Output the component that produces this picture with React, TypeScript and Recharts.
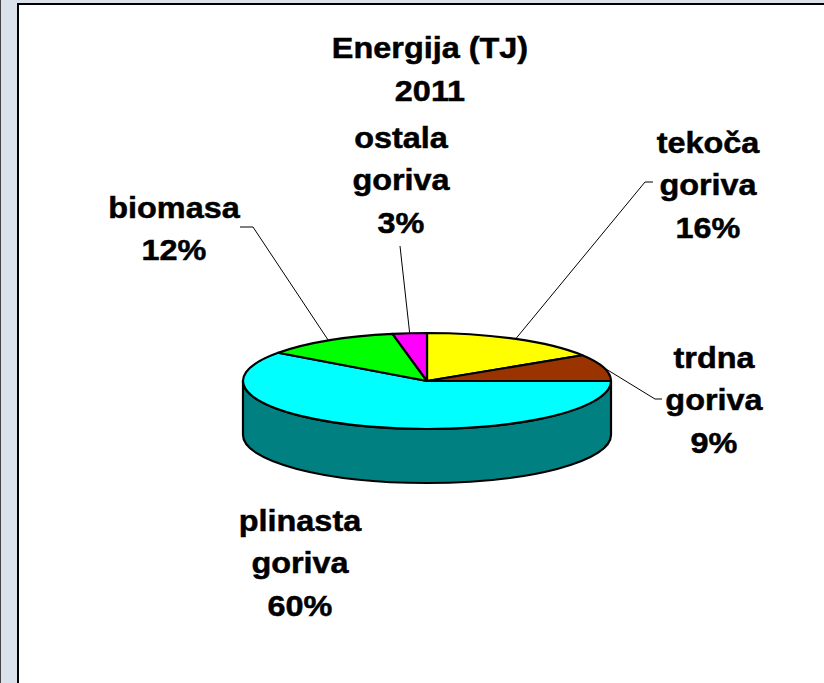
import React from 'react';
import { PieChart, Pie, Cell, Customized } from 'recharts';

const categories = ['tekoča goriva', 'trdna goriva', 'plinasta goriva', 'biomasa', 'ostala goriva'];
const shares = [16, 9, 60, 12, 3];
const colors = ['#FFFF00', '#993300', '#00FFFF', '#00FF00', '#FF00FF'];
const titleLines = ['Energija (TJ)', '2011'];

const data = categories.map((name, i) => ({ name, value: shares[i] }));

const W = 824;
const H = 683;
const CX = 427;
const CY = 381;
const RX = 184;
const TILT = 48 / 184;
const DEPTH = 54;
const FONT = '"Liberation Sans", Arial, Helvetica, sans-serif';
const SX = 1.08;

// label placement (center x, first baseline) and leader elbow points
const labelLayout: { x: number; y: number; leader: number[][] }[] = [
  { x: 708, y: 153, leader: [[645, 182], [653, 182]] },
  { x: 714, y: 368, leader: [[655, 399], [662, 399]] },
  { x: 300, y: 531, leader: [] },
  { x: 174, y: 218, leader: [[253, 227], [240, 227]] },
  { x: 401, y: 148, leader: [[400, 246]] },
];

const darken = (hex: string, f = 0.5) => {
  const n = parseInt(hex.slice(1), 16);
  const r = Math.round(((n >> 16) & 255) * f);
  const g = Math.round(((n >> 8) & 255) * f);
  const b = Math.round((n & 255) * f);
  return `rgb(${r},${g},${b})`;
};

const pt = (cx: number, cy: number, rx: number, ry: number, deg: number, dy = 0) => {
  const r = (deg * Math.PI) / 180;
  return [cx + rx * Math.cos(r), cy - ry * Math.sin(r) + dy];
};

const Slice3D = (props: any) => {
  const { cx, cy, outerRadius, startAngle, endAngle, fill } = props;
  const rx = outerRadius;
  const ry = outerRadius * TILT;
  const hi = Math.max(startAngle, endAngle);
  const lo = Math.min(startAngle, endAngle);
  const p1 = pt(cx, cy, rx, ry, hi);
  const p2 = pt(cx, cy, rx, ry, lo);
  const large = hi - lo > 180 ? 1 : 0;
  const top = `M${cx},${cy} L${p1[0]},${p1[1]} A${rx},${ry} 0 ${large} 1 ${p2[0]},${p2[1]} Z`;
  // front wall: angles in [-180, 0]
  const a = Math.max(lo, -180);
  const b = Math.min(hi, 0);
  let wall: string | null = null;
  if (a < b) {
    const w1 = pt(cx, cy, rx, ry, b);
    const w2 = pt(cx, cy, rx, ry, a);
    wall = `M${w1[0]},${w1[1]} A${rx},${ry} 0 0 1 ${w2[0]},${w2[1]} L${w2[0]},${w2[1] + DEPTH} A${rx},${ry} 0 0 0 ${w1[0]},${w1[1] + DEPTH} Z`;
  }
  return (
    <g>
      {wall && <path d={wall} fill={darken(fill)} stroke="#000" strokeWidth={2.2} strokeLinejoin="round" />}
      <path d={top} fill={fill} stroke="#000" strokeWidth={2.2} strokeLinejoin="round" />
    </g>
  );
};

const StretchText = ({ x, y, lines, size, gap }: { x: number; y: number; lines: string[]; size: number; gap: number }) => (
  <g transform={`translate(${x},0) scale(${SX},1) translate(${-x},0)`}>
    <text
      x={x}
      y={y}
      textAnchor="middle"
      fontFamily={FONT}
      fontWeight="bold"
      fontSize={size}
      fill="#000"
      stroke="#000"
      strokeWidth={0.5}
    >
      {lines.map((t, k) => (
        <tspan key={k} x={x} dy={k === 0 ? 0 : gap}>
          {t}
        </tspan>
      ))}
    </text>
  </g>
);

const renderLabel = (props: any) => {
  const { cx, cy, midAngle, outerRadius, index, percent } = props;
  const L = labelLayout[index];
  const start = pt(cx, cy, outerRadius, outerRadius * TILT, midAngle);
  const pts = L.leader.length ? [start, ...L.leader] : [];
  const lines = [...categories[index].split(' '), `${Math.round(percent * 100)}%`];
  return (
    <g key={`lbl-${index}`}>
      {pts.length > 0 && (
        <polyline points={pts.map((p) => p.join(',')).join(' ')} fill="none" stroke="#000" strokeWidth={1} />
      )}
      <StretchText x={L.x} y={L.y} lines={lines} size={30} gap={42.5} />
    </g>
  );
};

const Title = () => <StretchText x={430} y={58} lines={titleLines} size={30} gap={43} />;

export default function App() {
  return (
    <div style={{ position: 'absolute', left: 0, top: 0, width: W, height: H, background: '#dce2eb', overflow: 'hidden' }}>
      <div style={{ position: 'absolute', left: 0, top: 0, width: 1, height: H, background: '#444' }} />
      <div
        style={{
          position: 'absolute',
          left: 17,
          top: 3,
          right: 0,
          bottom: 0,
          background: '#fff',
          borderLeft: '2px solid #000',
          borderTop: '2px solid #000',
        }}
      />
      <div style={{ position: 'absolute', left: 0, top: 0 }}>
        <PieChart width={W} height={H} margin={{ top: 0, right: 0, bottom: 0, left: 0 }}>
          <Customized component={Title} />
          <Pie
            data={data}
            dataKey="value"
            nameKey="name"
            cx={CX}
            cy={CY}
            outerRadius={RX}
            startAngle={90}
            endAngle={-270}
            isAnimationActive={false}
            shape={Slice3D}
            label={renderLabel}
            labelLine={false}
            stroke="none"
          >
            {data.map((d, i) => (
              <Cell key={d.name} fill={colors[i]} />
            ))}
          </Pie>
        </PieChart>
      </div>
    </div>
  );
}
